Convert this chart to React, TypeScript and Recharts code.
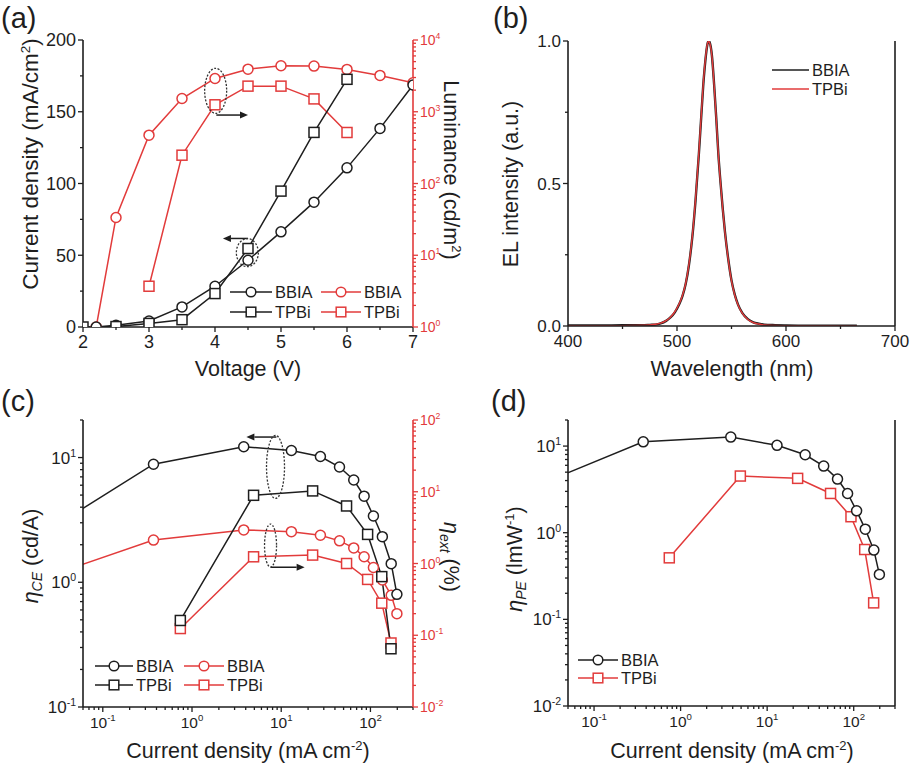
import React from "react";
import { LineChart, Line, XAxis, YAxis, ReferenceDot, ReferenceLine } from "recharts";

const BLACK = "#1e1e1e";
const RED = "#e23b3b";
const FONT = "'Liberation Sans', Arial, sans-serif";

// (a) J-V-L
const voltBBIA = [2.2, 2.5, 3, 3.5, 4, 4.5, 5, 5.5, 6, 6.5, 7];
const jBBIA = [0, 1.2, 4.2, 14, 28.4, 46.5, 66.3, 87, 110.9, 138.4, 168.6];
const lumBBIA = [1, 33.6, 472, 1530, 2910, 3920, 4370, 4330, 3890, 3210, 2530];
const voltTPBi = [2, 2.5, 3, 3.5, 4, 4.5, 5, 5.5, 6];
const jTPBi = [0, 0.3, 2.5, 5.1, 23.3, 54.7, 94.7, 135.6, 172.6];
const voltTPBiL = [3, 3.5, 4, 4.5, 5, 5.5, 6];
const lumTPBi = [3.7, 248, 1250, 2275, 2275, 1510, 514];

// (b) EL spectra
const wl = [400, 420, 440, 460, 470, 475, 480, 485, 490, 494, 498, 502, 505, 508, 511, 514, 517, 520, 522, 524, 526, 528, 529, 530, 532, 534, 536, 538, 540, 542, 544, 547, 550, 553, 556, 560, 565, 570, 575, 580, 590, 600, 620, 640, 665];
const elBBIA = [0.002, 0.002, 0.002, 0.003, 0.003, 0.004, 0.005, 0.009, 0.018, 0.03, 0.048, 0.076, 0.105, 0.148, 0.215, 0.31, 0.44, 0.6, 0.72, 0.84, 0.93, 0.99, 1.0, 0.995, 0.95, 0.85, 0.73, 0.6, 0.5, 0.41, 0.33, 0.235, 0.16, 0.11, 0.075, 0.045, 0.024, 0.013, 0.008, 0.005, 0.003, 0.002, 0.001, 0.001, 0.001];
const elTPBi = [0.001, 0.001, 0.001, 0.002, 0.003, 0.004, 0.006, 0.01, 0.019, 0.031, 0.05, 0.078, 0.107, 0.15, 0.218, 0.313, 0.445, 0.605, 0.725, 0.845, 0.935, 0.992, 1.0, 0.993, 0.948, 0.848, 0.728, 0.598, 0.498, 0.408, 0.328, 0.233, 0.158, 0.108, 0.074, 0.044, 0.023, 0.012, 0.007, 0.004, 0.002, 0.001, 0.001, 0.001, 0.0];

// (c), (d) efficiencies vs current density
const jcBBIA = [0.04, 0.37, 3.8, 13, 27.5, 45, 65, 85, 108, 136, 171, 198];
const ceBBIA = [3.27, 8.84, 12.2, 11.4, 10.2, 8.4, 6.6, 4.9, 3.4, 2.32, 1.41, 0.8];
const eqeBBIA = [0.82, 2.12, 2.94, 2.78, 2.48, 2.07, 1.65, 1.24, 0.88, 0.59, 0.36, 0.2];
const peBBIA = [4.49, 11.2, 12.7, 10.2, 7.94, 5.88, 4.16, 2.84, 1.79, 1.1, 0.63, 0.33];
const jcTPBi = [0.74, 4.9, 22.5, 54, 93, 134, 170];
const ceTPBi = [0.494, 4.98, 5.4, 4.09, 2.42, 1.11, 0.293];
const eqeTPBi = [0.124, 1.24, 1.31, 1.0, 0.6, 0.28, 0.078];
const peTPBi = [0.513, 4.51, 4.24, 2.84, 1.53, 0.64, 0.155];

// ticks
const aXMajor = [2, 3, 4, 5, 6, 7];
const aXTicks = [2, 2.5, 3, 3.5, 4, 4.5, 5, 5.5, 6, 6.5, 7];
const aYMajor = [0, 50, 100, 150, 200];
const aYTicks = [0, 25, 50, 75, 100, 125, 150, 175, 200];
const bXMajor = [400, 500, 600, 700];
const bXTicks = [400, 450, 500, 550, 600, 650, 700];
const bYMajor = [0, 0.5, 1];
const bYTicks = [0, 0.25, 0.5, 0.75, 1];
const decades = [0.01, 0.1, 1, 10, 100, 1000, 10000];

const logTicks = (lo: number, hi: number) => {
  const out: number[] = [];
  for (let e = Math.floor(Math.log10(lo)); e <= Math.ceil(Math.log10(hi)); e++) {
    for (let m = 1; m <= 9; m++) {
      const v = +(m * Math.pow(10, e)).toPrecision(6);
      if (v >= lo * 0.9999 && v <= hi * 1.0001) out.push(v);
    }
  }
  return out;
};

const zip = (xs: number[], ys: number[]) => xs.map((x, i) => ({ x, y: ys[i] }));

const isMajor = (v: number, majors: number[]) =>
  majors.some((m) => Math.abs(v - m) <= Math.abs(m) * 1e-6 + 1e-9);

type Side = "left" | "right" | "bottom";

const tickText = (v: number, log: boolean, fs: number) => {
  if (!log) return String(v);
  const e = Math.round(Math.log10(v));
  return (
    <>
      <tspan>10</tspan>
      <tspan dy={-fs * 0.42} fontSize={fs * 0.62}>{e}</tspan>
    </>
  );
};

const axisTick = (side: Side, majors: number[], color: string, fs: number, log: boolean, fmt?: (v: number) => string) =>
  (p: any) => {
    const { x, y, payload } = p;
    const v = payload.value;
    const major = isMajor(v, majors);
    const len = major ? 5 : 3;
    const content = fmt ? fmt(v) : tickText(v, log, fs);
    if (side === "left") {
      return (
        <g>
          <line x1={x} y1={y} x2={x - len} y2={y} stroke={color} strokeWidth={1.3} />
          {major && (
            <text x={x - 7} y={y} dy="0.36em" textAnchor="end" fontSize={fs} fill={color} fontFamily={FONT}>
              {content}
            </text>
          )}
        </g>
      );
    }
    if (side === "right") {
      return (
        <g>
          <line x1={x} y1={y} x2={x + len} y2={y} stroke={color} strokeWidth={1.3} />
          {major && (
            <text x={x + 7} y={y} dy="0.36em" textAnchor="start" fontSize={fs} fill={color} fontFamily={FONT}>
              {content}
            </text>
          )}
        </g>
      );
    }
    return (
      <g>
        <line x1={x} y1={y} x2={x} y2={y + len} stroke={color} strokeWidth={1.3} />
        {major && (
          <text x={x} y={y + 21} textAnchor="middle" fontSize={fs} fill={color} fontFamily={FONT}>
            {content}
          </text>
        )}
      </g>
    );
  };

const circleDot = (color: string) => ({ r: 5, fill: "#fff", stroke: color, strokeWidth: 1.5 });
const squareDot = (color: string) => (p: any) => (
  <rect key={`s${p.index}`} x={p.cx - 5} y={p.cy - 5} width={10} height={10} fill="#fff" stroke={color} strokeWidth={1.5} />
);

const Ellipse = (rx: number, ry: number) => (p: any) => (
  <ellipse cx={p.cx} cy={p.cy} rx={rx} ry={ry} fill="none" stroke="#333" strokeWidth={1.3} strokeDasharray="2 1.6" />
);

const Arrow = (p: any) => {
  const { x1, y1, x2, y2 } = p;
  const dx = x2 - x1;
  const dy = y2 - y1;
  const len = Math.hypot(dx, dy) || 1;
  const ux = dx / len;
  const uy = dy / len;
  const bx = x2 - ux * 8;
  const by = y2 - uy * 8;
  return (
    <g>
      <line x1={x1} y1={y1} x2={bx} y2={by} stroke={BLACK} strokeWidth={1.5} />
      <polygon points={`${x2},${y2} ${bx - uy * 3.5},${by + ux * 3.5} ${bx + uy * 3.5},${by - ux * 3.5}`} fill={BLACK} />
    </g>
  );
};

const axisLine = (c: string) => ({ stroke: c, strokeWidth: 1.6 });
const lineProps = { type: "linear" as const, strokeWidth: 1.5, isAnimationActive: false, activeDot: false as const, dataKey: "y" };

function PanelA() {
  const lt = logTicks(1, 10000);
  return (
    <LineChart width={460} height={380} margin={{ top: 40, right: 0, bottom: 0, left: 0 }}>
      <XAxis xAxisId="b" dataKey="x" type="number" domain={[2, 7]} ticks={aXTicks} interval={0} allowDataOverflow
        axisLine={axisLine(BLACK)} tickLine={false} tickSize={0} tickMargin={0} height={53}
        tick={axisTick("bottom", aXMajor, BLACK, 18, false)} />
      <XAxis xAxisId="t" orientation="top" dataKey="x" type="number" domain={[2, 7]} height={0} tick={false} tickLine={false} axisLine={axisLine(BLACK)} />
      <YAxis yAxisId="j" type="number" domain={[0, 200]} ticks={aYTicks} interval={0} allowDataOverflow width={83}
        axisLine={axisLine(BLACK)} tickLine={false} tickSize={0} tickMargin={0}
        tick={axisTick("left", aYMajor, BLACK, 18, false)} />
      <YAxis yAxisId="l" orientation="right" type="number" scale="log" domain={[1, 10000]} ticks={lt} interval={0} allowDataOverflow width={47}
        axisLine={axisLine(RED)} tickLine={false} tickSize={0} tickMargin={0}
        tick={axisTick("right", decades, RED, 14, true)} />
      <Line {...lineProps} xAxisId="b" yAxisId="l" data={zip(voltBBIA, lumBBIA)} stroke={RED} dot={circleDot(RED)} />
      <Line {...lineProps} xAxisId="b" yAxisId="l" data={zip(voltTPBiL, lumTPBi)} stroke={RED} dot={squareDot(RED)} />
      <Line {...lineProps} xAxisId="b" yAxisId="j" data={zip(voltBBIA, jBBIA)} stroke={BLACK} dot={circleDot(BLACK)} />
      <Line {...lineProps} xAxisId="b" yAxisId="j" data={zip(voltTPBi, jTPBi)} stroke={BLACK} dot={squareDot(BLACK)} />
      <ReferenceDot xAxisId="b" yAxisId="j" x={4.01} y={164.6} shape={Ellipse(11, 22.5)} />
      <ReferenceLine xAxisId="b" yAxisId="j" segment={[{ x: 4.02, y: 147.7 }, { x: 4.5, y: 147.7 }]} shape={Arrow} />
      <ReferenceDot xAxisId="b" yAxisId="j" x={4.49} y={51.8} shape={Ellipse(11, 14)} />
      <ReferenceLine xAxisId="b" yAxisId="j" segment={[{ x: 4.5, y: 61.7 }, { x: 4.12, y: 61.7 }]} shape={Arrow} />
    </LineChart>
  );
}

function PanelB() {
  const fmt = (v: number) => v.toFixed(1);
  return (
    <LineChart width={450} height={380} margin={{ top: 41, right: 0, bottom: 0, left: 0 }}>
      <XAxis xAxisId="b" dataKey="x" type="number" domain={[400, 700]} ticks={bXTicks} interval={0} allowDataOverflow
        axisLine={axisLine(BLACK)} tickLine={false} tickSize={0} tickMargin={0} height={54}
        tick={axisTick("bottom", bXMajor, BLACK, 17, false)} />
      <XAxis xAxisId="t" orientation="top" dataKey="x" type="number" domain={[400, 700]} height={0} tick={false} tickLine={false} axisLine={axisLine(BLACK)} />
      <YAxis yAxisId="y" type="number" domain={[0, 1]} ticks={bYTicks} interval={0} allowDataOverflow width={108}
        axisLine={axisLine(BLACK)} tickLine={false} tickSize={0} tickMargin={0}
        tick={axisTick("left", bYMajor, BLACK, 17, false, fmt)} />
      <YAxis yAxisId="r" orientation="right" type="number" domain={[0, 1]} width={15} tick={false} tickLine={false} axisLine={axisLine(BLACK)} />
      <Line {...lineProps} type="monotone" xAxisId="b" yAxisId="y" data={zip(wl, elBBIA)} stroke={BLACK} strokeWidth={2.4} dot={false} />
      <Line {...lineProps} type="monotone" xAxisId="b" yAxisId="y" data={zip(wl, elTPBi)} stroke={RED} strokeWidth={1.4} dot={false} />
    </LineChart>
  );
}

function PanelC() {
  const xt = logTicks(0.06, 300);
  const yl = logTicks(0.1, 20);
  const yr = logTicks(0.01, 100);
  return (
    <LineChart width={460} height={389} margin={{ top: 40, right: 0, bottom: 0, left: 0 }}>
      <XAxis xAxisId="b" dataKey="x" type="number" scale="log" domain={[0.06, 300]} ticks={xt} interval={0} allowDataOverflow
        axisLine={axisLine(BLACK)} tickLine={false} tickSize={0} tickMargin={0} height={62}
        tick={axisTick("bottom", decades, BLACK, 15.5, true)} />
      <XAxis xAxisId="t" orientation="top" dataKey="x" type="number" scale="log" domain={[0.06, 300]} height={0} tick={false} tickLine={false} axisLine={axisLine(BLACK)} />
      <YAxis yAxisId="ce" type="number" scale="log" domain={[0.1, 20]} ticks={yl} interval={0} allowDataOverflow width={83}
        axisLine={axisLine(BLACK)} tickLine={false} tickSize={0} tickMargin={0}
        tick={axisTick("left", decades, BLACK, 17, true)} />
      <YAxis yAxisId="eqe" orientation="right" type="number" scale="log" domain={[0.01, 100]} ticks={yr} interval={0} allowDataOverflow width={47}
        axisLine={axisLine(RED)} tickLine={false} tickSize={0} tickMargin={0}
        tick={axisTick("right", decades, RED, 14, true)} />
      <Line {...lineProps} xAxisId="b" yAxisId="eqe" data={zip(jcBBIA, eqeBBIA)} stroke={RED} dot={circleDot(RED)} />
      <Line {...lineProps} xAxisId="b" yAxisId="eqe" data={zip(jcTPBi, eqeTPBi)} stroke={RED} dot={squareDot(RED)} />
      <Line {...lineProps} xAxisId="b" yAxisId="ce" data={zip(jcBBIA, ceBBIA)} stroke={BLACK} dot={circleDot(BLACK)} />
      <Line {...lineProps} xAxisId="b" yAxisId="ce" data={zip(jcTPBi, ceTPBi)} stroke={BLACK} dot={squareDot(BLACK)} />
      <ReferenceDot xAxisId="b" yAxisId="ce" x={8.63} y={8.41} shape={Ellipse(9, 31.5)} />
      <ReferenceLine xAxisId="b" yAxisId="ce" segment={[{ x: 8.83, y: 14.6 }, { x: 4.07, y: 14.6 }]} shape={Arrow} />
      <ReferenceDot xAxisId="b" yAxisId="ce" x={7.59} y={1.97} shape={Ellipse(6, 21.5)} />
      <ReferenceLine xAxisId="b" yAxisId="ce" segment={[{ x: 7.65, y: 1.32 }, { x: 18.3, y: 1.32 }]} shape={Arrow} />
    </LineChart>
  );
}

function PanelD() {
  const xt = logTicks(0.05, 300);
  const yt = logTicks(0.01, 20);
  return (
    <LineChart width={450} height={389} margin={{ top: 40, right: 0, bottom: 0, left: 0 }}>
      <XAxis xAxisId="b" dataKey="x" type="number" scale="log" domain={[0.05, 300]} ticks={xt} interval={0} allowDataOverflow
        axisLine={axisLine(BLACK)} tickLine={false} tickSize={0} tickMargin={0} height={63}
        tick={axisTick("bottom", decades, BLACK, 15.5, true)} />
      <XAxis xAxisId="t" orientation="top" dataKey="x" type="number" scale="log" domain={[0.05, 300]} height={0} tick={false} tickLine={false} axisLine={axisLine(BLACK)} />
      <YAxis yAxisId="pe" type="number" scale="log" domain={[0.01, 20]} ticks={yt} interval={0} allowDataOverflow width={108}
        axisLine={axisLine(BLACK)} tickLine={false} tickSize={0} tickMargin={0}
        tick={axisTick("left", decades, BLACK, 17, true)} />
      <YAxis yAxisId="r" orientation="right" type="number" scale="log" domain={[0.01, 20]} width={15} tick={false} tickLine={false} axisLine={axisLine(BLACK)} />
      <Line {...lineProps} xAxisId="b" yAxisId="pe" data={zip(jcTPBi, peTPBi)} stroke={RED} dot={squareDot(RED)} />
      <Line {...lineProps} xAxisId="b" yAxisId="pe" data={zip(jcBBIA, peBBIA)} stroke={BLACK} dot={circleDot(BLACK)} />
    </LineChart>
  );
}

const LegendRow = ({ x, y, w, color, shape, label }: { x: number; y: number; w: number; color: string; shape?: "c" | "s"; label: string }) => (
  <g>
    <line x1={x} y1={y} x2={x + w} y2={y} stroke={color} strokeWidth={1.5} />
    {shape === "c" && <circle cx={x + w / 2} cy={y} r={4.8} fill="#fff" stroke={color} strokeWidth={1.5} />}
    {shape === "s" && <rect x={x + w / 2 - 4.8} y={y - 4.8} width={9.6} height={9.6} fill="#fff" stroke={color} strokeWidth={1.5} />}
    <text x={x + w + 3} y={y + 6} fontSize={16.5} fill={BLACK} fontFamily={FONT}>{label}</text>
  </g>
);

const TITLE = 21.5;

function Overlay() {
  const sub = { fontSize: 14, fontStyle: "italic" as const };
  return (
    <svg width={910} height={769} style={{ position: "absolute", left: 0, top: 0, pointerEvents: "none" }} fontFamily={FONT} fill={BLACK}>
      {/* panel letters */}
      <text x={1} y={28} fontSize={29}>(a)</text>
      <text x={493} y={28} fontSize={29}>(b)</text>
      <text x={1} y={411} fontSize={29}>(c)</text>
      <text x={491} y={411} fontSize={29}>(d)</text>

      {/* (a) titles */}
      <text transform="translate(37.5,164) rotate(-90)" textAnchor="middle" fontSize={22.5}>
        Current density (mA/cm<tspan dy={-8} fontSize={13.5}>2</tspan><tspan dy={8}>)</tspan>
      </text>
      <text x={248} y={376} textAnchor="middle" fontSize={TITLE}>Voltage (V)</text>
      <text transform="translate(443.5,170) rotate(90)" textAnchor="middle" fontSize={TITLE}>
        Luminance (cd/m<tspan dy={-8} fontSize={13}>2</tspan><tspan dy={8}>)</tspan>
      </text>

      {/* (b) titles */}
      <text transform="translate(517.5,184) rotate(-90)" textAnchor="middle" fontSize={TITLE}>EL intensity (a.u.)</text>
      <text x={732} y={376} textAnchor="middle" fontSize={TITLE}>Wavelength (nm)</text>

      {/* (c) titles */}
      <text transform="translate(38,556) rotate(-90)" textAnchor="middle" fontSize={TITLE}>
        <tspan fontStyle="italic">η</tspan><tspan dy={4} {...sub}>CE</tspan><tspan dy={-4}> (cd/A)</tspan>
      </text>
      <text x={248} y={758} textAnchor="middle" fontSize={TITLE}>
        Current density (mA cm<tspan dy={-8} fontSize={13}>-2</tspan><tspan dy={8}>)</tspan>
      </text>
      <text transform="translate(443.5,557) rotate(90)" textAnchor="middle" fontSize={TITLE}>
        <tspan fontStyle="italic">η</tspan><tspan dy={4} {...sub}>ext</tspan><tspan dy={-4}> (%)</tspan>
      </text>

      {/* (d) titles */}
      <text transform="translate(522,559) rotate(-90)" textAnchor="middle" fontSize={TITLE}>
        <tspan fontStyle="italic">η</tspan><tspan dy={4} {...sub}>PE</tspan><tspan dy={-4}> (lmW</tspan><tspan dy={-8} fontSize={13}>-1</tspan><tspan dy={8}>)</tspan>
      </text>
      <text x={732} y={758} textAnchor="middle" fontSize={TITLE}>
        Current density (mA cm<tspan dy={-8} fontSize={13}>-2</tspan><tspan dy={8}>)</tspan>
      </text>

      {/* legends */}
      <LegendRow x={230} y={292} w={42} color={BLACK} shape="c" label="BBIA" />
      <LegendRow x={230} y={312} w={42} color={BLACK} shape="s" label="TPBi" />
      <LegendRow x={321} y={292} w={40} color={RED} shape="c" label="BBIA" />
      <LegendRow x={321} y={312} w={40} color={RED} shape="s" label="TPBi" />

      <LegendRow x={772} y={70} w={37} color={BLACK} label="BBIA" />
      <LegendRow x={772} y={89} w={37} color={RED} label="TPBi" />

      <LegendRow x={95} y={666} w={38} color={BLACK} shape="c" label="BBIA" />
      <LegendRow x={95} y={685} w={38} color={BLACK} shape="s" label="TPBi" />
      <LegendRow x={184} y={666} w={40} color={RED} shape="c" label="BBIA" />
      <LegendRow x={184} y={685} w={40} color={RED} shape="s" label="TPBi" />

      <LegendRow x={578} y={660} w={40} color={BLACK} shape="c" label="BBIA" />
      <LegendRow x={578} y={678} w={40} color={RED} shape="s" label="TPBi" />
    </svg>
  );
}

export default function App() {
  return (
    <div style={{ position: "absolute", left: 0, top: 0, width: 910, height: 769, background: "#fff", fontFamily: FONT, overflow: "hidden" }}>
      <div style={{ position: "absolute", left: 0, top: 0 }}><PanelA /></div>
      <div style={{ position: "absolute", left: 460, top: 0 }}><PanelB /></div>
      <div style={{ position: "absolute", left: 0, top: 380 }}><PanelC /></div>
      <div style={{ position: "absolute", left: 460, top: 380 }}><PanelD /></div>
      <Overlay />
    </div>
  );
}
